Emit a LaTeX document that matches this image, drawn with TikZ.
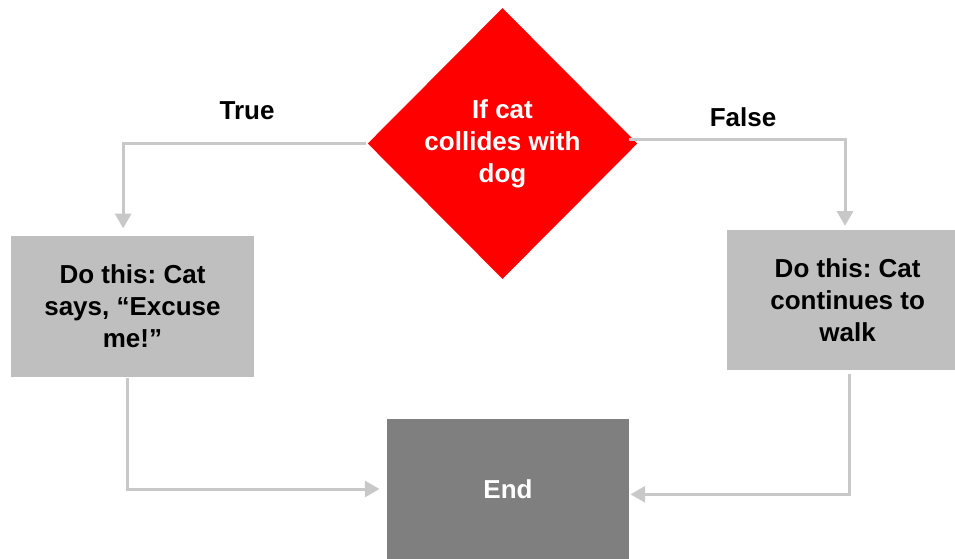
\documentclass[tikz,border=0pt]{standalone}
\usepackage{fontspec}
\setmainfont{Liberation Sans}
\usetikzlibrary{shapes.geometric,arrows.meta}
\definecolor{boxgray}{HTML}{BFBFBF}
\definecolor{endgray}{HTML}{7F7F7F}
\definecolor{linegray}{HTML}{C8C8C8}
\frenchspacing
\begin{document}
\begin{tikzpicture}[
				x=0.75pt,
				y=-0.75pt,
				line width=2.25pt,
				every node/.style={font=\bfseries\fontsize{19.5}{24}\selectfont, align=center},
				decision/.style={diamond, fill=red, text=white, inner sep=0pt, minimum width=203pt, minimum height=204pt},
				action/.style={rectangle, fill=boxgray, inner sep=0pt, minimum width=182pt, minimum height=105pt},
				flow/.style={draw=linegray, -{Triangle[width=12pt,length=11pt]}},
				]
				\useasboundingbox (0,0) rectangle (955,559);
				\node [decision] (cond) at (502.5,143.5) {If cat\\collides with\\dog};
				\node [action] (yes) at (132.5,306.5) {Do this: Cat\\says, ``Excuse\\me!''};
				\node [action, minimum width=171pt] (no) at (841,300) {\hspace*{10pt}Do this: Cat\\\hspace*{10pt}continues to\\\hspace*{10pt}walk};
				\node [action, fill=endgray, text=white, minimum width=181.5pt] (end) at (508,489) {End};
				\node (truelbl) at (247,111) {True};
				\node (falselbl) at (743,117) {False};
				\draw [flow, shorten >=5pt] (cond.west) -| ([xshift=-7pt]yes.north);
				\draw [flow, shorten >=2pt] ([xshift=-8pt, yshift=3pt]cond.east) -| ([xshift=3pt]no.north);
				\draw [flow, shorten >=4.5pt] ([xshift=-4pt]yes.south) |- (end.west);
				\draw [flow, shorten <=2pt] ([xshift=6pt]no.south) |- ([yshift=-4pt]end.east);
\end{tikzpicture}
\end{document}
